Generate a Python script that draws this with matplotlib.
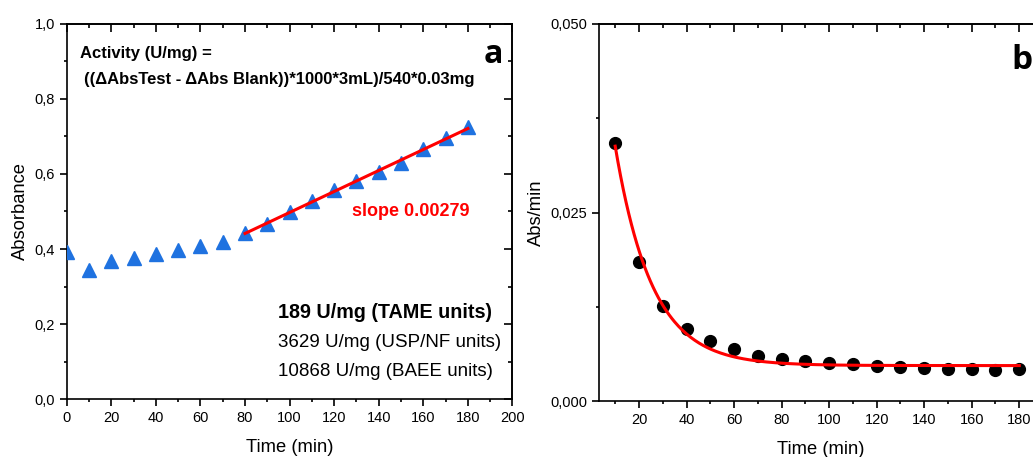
import numpy as np
import matplotlib
matplotlib.use('Agg')
import matplotlib.pyplot as plt
from matplotlib.ticker import FuncFormatter, MultipleLocator

plt.rcParams['font.family'] = ['Liberation Sans', 'DejaVu Sans']

# panel a: absorbance vs time
time_a = [0, 10, 20, 30, 40, 50, 60, 70, 80, 90, 100, 110, 120, 130, 140, 150, 160, 170, 180]
absorb = [0.393, 0.344, 0.369, 0.377, 0.386, 0.397, 0.408, 0.420, 0.442, 0.468, 0.499,
          0.528, 0.556, 0.581, 0.604, 0.630, 0.667, 0.695, 0.725]
fit_start = 80

# panel b: abs/min vs time
time_b = [10, 20, 30, 40, 50, 60, 70, 80, 90, 100, 110, 120, 130, 140, 150, 160, 170, 180]
rate = [0.03426, 0.01840, 0.01260, 0.00951, 0.00800, 0.00686, 0.00601, 0.00557, 0.00531,
        0.00508, 0.00491, 0.00468, 0.00455, 0.00442, 0.00424, 0.00424, 0.00411, 0.00420]
# exponential decay fit
fit_y0, fit_A, fit_tau = 0.0047, 0.0291, 15.5

blue = '#1f72e0'
red = '#ff0000'


def comma(fmt):
    return FuncFormatter(lambda v, p: (fmt % v).replace('.', ','))


def style_axes(ax, xmaj, xmin, ymaj, ymin):
    for s in ax.spines.values():
        s.set_linewidth(1.2)
    ax.xaxis.set_major_locator(MultipleLocator(xmaj))
    ax.xaxis.set_minor_locator(MultipleLocator(xmin))
    ax.yaxis.set_major_locator(MultipleLocator(ymaj))
    ax.yaxis.set_minor_locator(MultipleLocator(ymin))
    ax.tick_params(which='major', direction='out', length=5, width=1.2, labelsize=10.5)
    ax.tick_params(which='minor', direction='out', length=2.5, width=1.2)
    # mirrored ticks on top/right point inwards
    top = ax.secondary_xaxis('top')
    top.xaxis.set_major_locator(MultipleLocator(xmaj))
    top.xaxis.set_minor_locator(MultipleLocator(xmin))
    top.tick_params(which='major', direction='in', length=5.5, width=1.2, labeltop=False)
    top.tick_params(which='minor', direction='in', length=3, width=1.2)
    top.spines['top'].set_linewidth(1.2)
    right = ax.secondary_yaxis('right')
    right.yaxis.set_major_locator(MultipleLocator(ymaj))
    right.yaxis.set_minor_locator(MultipleLocator(ymin))
    right.tick_params(which='major', direction='in', length=5.5, width=1.2, labelright=False)
    right.tick_params(which='minor', direction='in', length=3, width=1.2)
    right.spines['right'].set_linewidth(1.2)


fig = plt.figure(figsize=(10.33, 4.57), dpi=100)

# ---- panel a
ax1 = fig.add_axes([0.0646, 0.1269, 0.4315, 0.8206])
ta = np.array(time_a, dtype=float)
ya = np.array(absorb, dtype=float)
ax1.plot(ta, ya, linestyle='none', marker='^', ms=9.5, color=blue, zorder=3)
m = ta >= fit_start
k, b0 = np.polyfit(ta[m], ya[m], 1)
xl = np.array([fit_start, ta[-1]])
ax1.plot(xl, k * xl + b0, color=red, lw=2.2, zorder=4)
ax1.set_xlim(0, 200)
ax1.set_ylim(0, 1.0)
style_axes(ax1, 20, 10, 0.2, 0.1)
ax1.xaxis.set_major_formatter(FuncFormatter(lambda v, p: '%d' % v))
ax1.yaxis.set_major_formatter(comma('%.1f'))
ax1.set_xlabel('Time (min)', fontsize=13.2, labelpad=10)
ax1.set_ylabel('Absorbance', fontsize=13.2)
ax1.text(0.03, 0.92, 'Activity (U/mg) =', transform=ax1.transAxes, fontsize=12,
         fontweight='bold', va='center', ha='left')
ax1.text(0.038, 0.851, '((\u0394AbsTest - \u0394Abs Blank))*1000*3mL)/540*0.03mg',
         transform=ax1.transAxes, fontsize=12, fontweight='bold', va='center', ha='left')
ax1.text(0.978, 0.919, 'a', transform=ax1.transAxes, fontsize=23, fontweight='bold',
         family=['Open Sans', 'DejaVu Sans'], va='center', ha='right')
ax1.text(0.64, 0.499, 'slope 0.00279', transform=ax1.transAxes, fontsize=13,
         fontweight='bold', color=red, va='center', ha='left')
ax1.text(0.474, 0.230, '189 U/mg (TAME units)', transform=ax1.transAxes, fontsize=14.2,
         fontweight='bold', va='center', ha='left')
ax1.text(0.474, 0.152, '3629 U/mg (USP/NF units)', transform=ax1.transAxes, fontsize=13.5,
         va='center', ha='left')
ax1.text(0.474, 0.074, '10868 U/mg (BAEE units)', transform=ax1.transAxes, fontsize=13.5,
         va='center', ha='left')

# ---- panel b (cut off at the right edge like the reference)
ax2 = fig.add_axes([0.5799, 0.1225, 0.4298, 0.825])
ax2.plot(time_b, rate, linestyle='none', marker='o', ms=8.5, color='black', zorder=3)
tt = np.linspace(time_b[0], time_b[-1], 300)
ax2.plot(tt, fit_y0 + fit_A * np.exp(-(tt - time_b[0]) / fit_tau), color=red, lw=2.2, zorder=4)
ax2.set_xlim(3.2, 190)
ax2.set_ylim(0, 0.050)
style_axes(ax2, 20, 10, 0.025, 0.0125)
ax2.set_xticks(np.arange(20, 181, 20))
ax2.xaxis.set_major_formatter(FuncFormatter(lambda v, p: '%d' % v))
ax2.yaxis.set_major_formatter(comma('%.3f'))
ax2.set_xlabel('Time (min)', fontsize=13.2, labelpad=10)
ax2.set_ylabel('Abs/min', fontsize=13.2)
ax2.text(0.977, 0.902, 'b', transform=ax2.transAxes, fontsize=24, fontweight='bold',
         family=['Open Sans', 'DejaVu Sans'], va='center', ha='right')

fig.savefig('out.png', dpi=100)
